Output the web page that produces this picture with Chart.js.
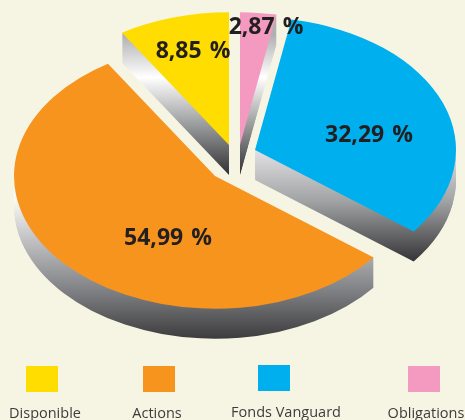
<!DOCTYPE html>
<html><head><meta charset="utf-8">
<script src="https://cdn.jsdelivr.net/npm/chart.js@4"></script>
<style>html,body{margin:0;padding:0;background:#f6f5e3;overflow:hidden}canvas{display:block}</style>
</head><body><canvas id="c" width="465" height="420"></canvas>
<script>
const categories = ["Disponible", "Actions", "Fonds Vanguard", "Obligations"];
const sliceOrder = ["Disponible", "Obligations", "Fonds Vanguard", "Actions"];
const sliceValues = [8.85, 2.87, 32.29, 54.99];
const sliceColors = ["#ffdd00", "#f49ac1", "#00b0ee", "#f7941e"];
const legendColors = ["#ffdd00", "#f7941e", "#00b0ee", "#f49ac1"];

// presentation constants
const TILT = 0.66, DEPTH = 30;
const apex = [[229,145],[240,145],[255,150],[215,176]];
const sideStops = [
  [35,176,[[0,"#b0b0b2"],[0.3,"#ffffff"],[0.68,"#8e8f91"],[1,"#2e2e30"]]],
  [35,176,[[0,"#b0b0b2"],[0.3,"#ffffff"],[0.68,"#8e8f91"],[1,"#2e2e30"]]],
  [150,266,[[0,"#e2e2e4"],[0.45,"#a0a1a3"],[1,"#2c2c2e"]]],
  [200,339,[[0,"#f8f8f4"],[0.25,"#c8c8ca"],[0.65,"#808184"],[1,"#3c3c3e"]]]
];
const labelPos = [[193,51],[266,27],[369,135],[168,238]];
const legendSwatch = [[26,366],[143,366],[258,365],[408,366]];
const legendText = [[45,418],[157,418],[286,417],[426,418]];

const fmt = v => v.toFixed(2).replace(".", ",") + " %";
const total = sliceValues.reduce((a,b)=>a+b,0);

const pie3d = {
  id:"pie3d",
  beforeDatasetsDraw(chart){
    const ctx = chart.ctx;
    chart.getDatasetMeta(0).data.forEach((arc,i)=>{
      const [ax,ay] = apex[i];
      const r = arc.outerRadius;
      const [g0,g1,stops] = sideStops[i];
      const grad = ctx.createLinearGradient(0,g0,0,g1);
      stops.forEach(s=>grad.addColorStop(s[0],s[1]));
      ctx.save();
      ctx.fillStyle = grad;
      for(let d=DEPTH;d>=1;d--){
        ctx.beginPath();
        ctx.moveTo(ax,ay+d);
        ctx.ellipse(ax,ay+d,r,r*TILT,0,arc.startAngle,arc.endAngle);
        ctx.closePath();
        ctx.fill();
      }
      ctx.restore();
      ctx.save();
      ctx.translate(ax,ay);
      ctx.scale(1,TILT);
      ctx.translate(-arc.x,-arc.y);
      arc.draw(ctx,chart.chartArea);
      ctx.restore();
    });
    return false;
  },
  afterDraw(chart){
    const ctx = chart.ctx;
    ctx.save();
    ctx.textAlign="center"; ctx.textBaseline="middle";
    ctx.fillStyle="#231f20";
    ctx.font='bold 23px "Open Sans"';
    ctx.wordSpacing="2px";
    sliceValues.forEach((v,i)=>ctx.fillText(fmt(v),labelPos[i][0],labelPos[i][1]));
    ctx.wordSpacing="0px";
    categories.forEach((name,i)=>{
      ctx.fillStyle=legendColors[i];
      ctx.fillRect(legendSwatch[i][0],legendSwatch[i][1],32,26);
      ctx.fillStyle="#3c3c3c";
      ctx.font='14.5px "Open Sans"';
      ctx.textBaseline="alphabetic";
      ctx.fillText(name,legendText[i][0],legendText[i][1]);
    });
    ctx.restore();
  }
};

new Chart(document.getElementById("c"),{
  type:"pie",
  data:{labels:sliceOrder,datasets:[{data:sliceValues,backgroundColor:sliceColors,borderWidth:0}]},
  options:{
    responsive:false,animation:false,devicePixelRatio:1,
    rotation:-sliceValues[0]/total*360,
    layout:{padding:{left:36,right:27,top:9,bottom:9}},
    plugins:{legend:{display:false},tooltip:{enabled:false}}
  },
  plugins:[pie3d]
});
</script></body></html>
